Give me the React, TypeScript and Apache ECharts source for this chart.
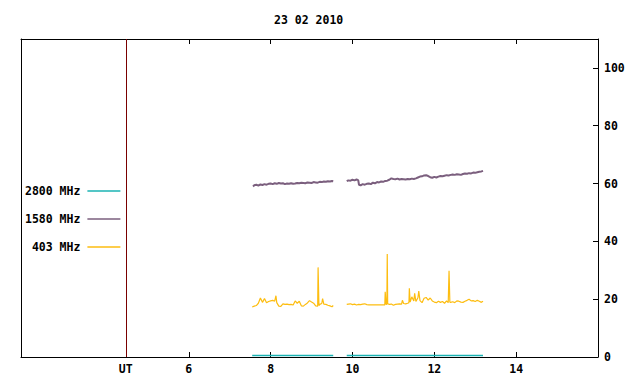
import React, { useEffect, useRef } from "react";
import * as echarts from "echarts";

const TITLE = "23 02 2010";
const SERIES_NAMES = ["2800 MHz", "1580 MHz", "403 MHz"];
const X_TICKS = [6, 8, 10, 12, 14];
const UT_POS = 4.46;
const Y_TICKS = [0, 20, 40, 60, 80, 100];

// 2800 MHz (near zero)
const hours2800 = [7.55, 8.0, 8.5, 9.0, 9.53, 9.7, 9.86, 10.5, 11.0, 11.5, 12.0, 12.5, 13.0, 13.19];
const vals2800 = [0.5, 0.5, 0.5, 0.5, 0.5, null, 0.5, 0.5, 0.5, 0.5, 0.5, 0.5, 0.5, 0.5];

// 1580 MHz
const hours1580 = [
  7.57, 7.6, 7.65, 7.7, 7.75, 7.8, 7.85, 7.9, 7.95, 8.0, 8.05, 8.1, 8.15, 8.2, 8.25, 8.3, 8.35, 8.4, 8.45, 8.5,
  8.55, 8.6, 8.65, 8.7, 8.75, 8.8, 8.85, 8.9, 8.95, 9.0, 9.05, 9.1, 9.15, 9.2, 9.25, 9.3, 9.35, 9.4, 9.45, 9.5, 9.53,
  9.7,
  9.86, 9.9, 9.95, 10.0, 10.05, 10.1, 10.14, 10.16, 10.2, 10.25, 10.3, 10.35, 10.4, 10.45, 10.5, 10.55, 10.6, 10.65,
  10.7, 10.75, 10.8, 10.85, 10.9, 10.95, 11.0, 11.05, 11.1, 11.15, 11.2, 11.25, 11.3, 11.35, 11.4, 11.45, 11.5,
  11.55, 11.6, 11.65, 11.7, 11.75, 11.8, 11.85, 11.9, 11.95, 12.0, 12.05, 12.1, 12.15, 12.2, 12.25, 12.3, 12.35,
  12.4, 12.45, 12.5, 12.55, 12.6, 12.65, 12.7, 12.75, 12.8, 12.85, 12.9, 12.95, 13.0, 13.05, 13.1, 13.15, 13.19,
];
const vals1580 = [
  59.0, 59.4, 59.6, 59.3, 59.7, 59.5, 59.8, 59.6, 59.9, 60.0, 59.8, 60.1, 59.9, 60.2, 60.0, 60.1, 59.8, 60.0, 59.9, 60.1,
  59.9, 60.0, 60.2, 60.1, 60.3, 60.2, 60.1, 60.4, 60.3, 60.2, 60.5, 60.4, 60.3, 60.6, 60.5, 60.7, 60.6, 60.8, 60.7, 60.9, 60.8,
  null,
  60.8, 61.1, 61.0, 61.3, 61.1, 61.4, 61.2, 59.6, 59.4, 59.8, 59.6, 59.9, 60.0, 59.8, 60.3, 60.1, 60.5, 60.4,
  60.7, 60.6, 60.9, 61.0, 61.3, 61.8, 61.6, 61.5, 61.7, 61.4, 61.6, 61.5, 61.4, 61.6, 61.5, 61.7, 61.6,
  61.8, 62.1, 62.4, 62.5, 62.8, 62.9, 62.6, 62.2, 62.0, 62.3, 62.1, 62.4, 62.6, 62.5, 62.7, 62.9, 62.8,
  63.0, 63.1, 63.0, 63.2, 63.1, 63.0, 63.3, 63.5, 63.4, 63.6, 63.5, 63.8, 63.7, 63.9, 64.1, 64.2, 64.4,
];

// 403 MHz
const hours403 = [
  7.55, 7.6, 7.65, 7.7, 7.75, 7.8, 7.85, 7.9, 7.95, 8.0, 8.05, 8.1, 8.13, 8.15, 8.2, 8.25, 8.3, 8.35, 8.4, 8.45,
  8.5, 8.55, 8.6, 8.65, 8.7, 8.75, 8.8, 8.85, 8.9, 8.95, 9.0, 9.05, 9.1, 9.15, 9.16, 9.18, 9.2, 9.25, 9.27, 9.3,
  9.35, 9.4, 9.45, 9.5, 9.53,
  9.7,
  9.86, 9.9, 9.95, 10.0, 10.05, 10.1, 10.15, 10.2, 10.25, 10.3, 10.35, 10.4, 10.45, 10.5, 10.55, 10.6, 10.65, 10.7,
  10.75, 10.79, 10.8, 10.82, 10.84, 10.85, 10.86, 10.9, 10.95, 11.0, 11.05, 11.1, 11.15, 11.2, 11.22, 11.25, 11.3,
  11.35, 11.38, 11.39, 11.41, 11.45, 11.5, 11.52, 11.55, 11.6, 11.62, 11.65, 11.7, 11.75, 11.8, 11.85, 11.9, 11.95,
  12.0, 12.05, 12.1, 12.15, 12.2, 12.25, 12.3, 12.34, 12.36, 12.38, 12.4, 12.45, 12.5, 12.55, 12.6, 12.65, 12.7,
  12.75, 12.8, 12.85, 12.9, 12.95, 13.0, 13.05, 13.1, 13.15, 13.19,
];
const vals403 = [
  17.3, 17.6, 17.8, 18.6, 20.4, 18.9, 20.2, 18.8, 19.2, 19.4, 19.6, 19.3, 21.2, 18.8, 17.6, 17.5, 18.4, 18.2, 18.3, 18.1,
  18.2, 18.0, 19.4, 18.6, 19.3, 17.7, 17.6, 18.2, 18.7, 19.5, 19.0, 18.6, 17.7, 17.6, 31.0, 17.8, 18.2, 18.5, 20.2, 18.3,
  18.2, 17.9, 17.7, 17.4, 17.8,
  null,
  18.2, 18.3, 18.4, 18.1, 18.3, 18.0, 18.2, 18.1, 18.3, 18.4, 18.1, 18.0, 18.0, 18.0, 18.0, 18.0, 18.0, 18.0,
  18.0, 18.0, 22.6, 18.3, 18.2, 35.6, 18.4, 18.2, 18.3, 17.9, 18.2, 18.3, 18.4, 18.3, 19.6, 18.5, 18.4,
  18.6, 18.8, 23.8, 19.0, 20.8, 19.4, 22.0, 19.2, 20.5, 22.8, 19.5, 18.8, 20.3, 20.6, 19.7, 20.4, 19.4,
  19.0, 18.8, 19.3, 18.9, 19.2, 18.6, 19.4, 18.8, 29.8, 19.0, 18.9, 19.1, 18.8, 19.4, 19.3, 19.0, 18.9,
  19.3, 19.6, 20.0, 19.4, 19.5, 19.2, 19.6, 19.3, 18.9, 19.3,
];

const COLORS = ["#1bb3b3", "#7b5f7e", "#fdbd10"];
const FONT = "'DejaVu Sans Mono', monospace";

const pairs = (xs: number[], ys: (number | null)[]) => xs.map((x, i) => [x, ys[i] === null ? "-" : ys[i]]);

export default function App() {
  const ref = useRef<HTMLDivElement>(null);
  useEffect(() => {
    if (!ref.current) return;
    const chart = echarts.init(ref.current, undefined, { renderer: "svg" });
    const textStyle = { fontFamily: FONT, fontWeight: "bold" as const, fontSize: 11.5, color: "#000" };
    const xBase = {
      type: "value",
      min: 1.9,
      max: 16,
      splitLine: { show: false },
      axisLine: { show: true, onZero: false, lineStyle: { color: "#000", width: 1 } },
      axisTick: { show: true, inside: true, length: 5, customValues: X_TICKS, lineStyle: { color: "#000" } },
    };
    chart.setOption({
      animation: false,
      backgroundColor: "#fff",
      title: {
        text: TITLE,
        left: 269,
        top: 9,
        textStyle: { ...textStyle },
      },
      legend: {
        data: SERIES_NAMES,
        orient: "vertical",
        align: "right",
        left: 20,
        top: 180,
        itemGap: 16,
        itemWidth: 33,
        itemHeight: 1.3,
        icon: "rect",
        textStyle: { ...textStyle, padding: [0, 2, 0, 0] },
      },
      grid: { left: 21, right: 42, top: 39, bottom: 27 },
      xAxis: [
        {
          ...xBase,
          position: "bottom",
          axisLabel: {
            show: true,
            customValues: [UT_POS, ...X_TICKS],
            formatter: (v: number) => (Math.abs(v - UT_POS) < 0.01 ? "UT" : String(v)),
            margin: 6,
            ...textStyle,
          },
        },
        {
          ...xBase,
          position: "top",
          axisLabel: { show: false },
        },
      ],
      yAxis: [
        {
          type: "value",
          min: 0,
          max: 110,
          position: "right",
          splitLine: { show: false },
          axisLine: { show: true, onZero: false, lineStyle: { color: "#000", width: 1 } },
          axisTick: { show: true, inside: true, length: 5, customValues: Y_TICKS, lineStyle: { color: "#000" } },
          axisLabel: { show: true, customValues: Y_TICKS, margin: 6, ...textStyle },
        },
        {
          type: "value",
          min: 0,
          max: 110,
          position: "left",
          splitLine: { show: false },
          axisLine: { show: true, onZero: false, lineStyle: { color: "#000", width: 1 } },
          axisTick: { show: false },
          axisLabel: { show: false },
        },
      ],
      series: [
        {
          name: SERIES_NAMES[0],
          type: "line",
          data: pairs(hours2800, vals2800),
          showSymbol: false,
          connectNulls: false,
          lineStyle: { color: COLORS[0], width: 1.6 },
          itemStyle: { color: COLORS[0] },
          z: 3,
        },
        {
          name: SERIES_NAMES[1],
          type: "line",
          data: pairs(hours1580, vals1580),
          showSymbol: false,
          connectNulls: false,
          lineStyle: { color: COLORS[1], width: 2 },
          itemStyle: { color: COLORS[1] },
        },
        {
          name: SERIES_NAMES[2],
          type: "line",
          data: pairs(hours403, vals403),
          showSymbol: false,
          connectNulls: false,
          lineStyle: { color: COLORS[2], width: 1.2 },
          itemStyle: { color: COLORS[2] },
          markLine: {
            silent: true,
            symbol: "none",
            label: { show: false },
            lineStyle: { color: "#7a0000", width: 1, type: "solid" },
            data: [{ xAxis: UT_POS }],
          },
        },
      ],
    });
    return () => chart.dispose();
  }, []);
  return <div ref={ref} style={{ width: 640, height: 384, position: "absolute", left: 0, top: 0 }} />;
}
